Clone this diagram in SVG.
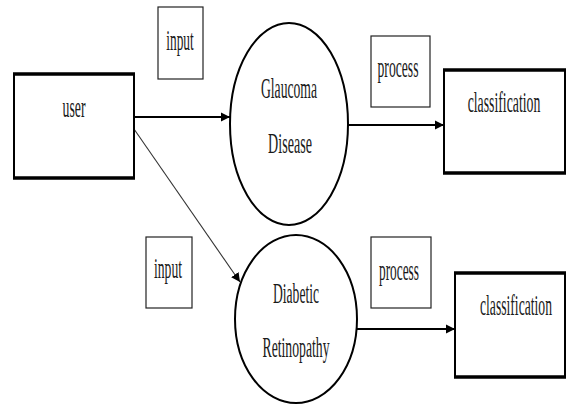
<svg xmlns="http://www.w3.org/2000/svg" width="566" height="405" viewBox="0 0 566 405">
<defs>
<style>
.t{font-family:"Liberation Serif","Times New Roman",serif;font-size:30px;fill:#1a1a1a;text-anchor:middle}
.big{fill:#fff;stroke:#000;stroke-width:2}
.edge{stroke:#000;stroke-width:3.5;fill:none}
.lbl{fill:#fff;stroke:#222;stroke-width:1.2}
.ell{fill:#fff;stroke:#000;stroke-width:2}
.conn{stroke:#000;stroke-width:1.8;fill:none}
.diag{stroke:#333;stroke-width:1.1;fill:none}
</style>
<marker id="ah" viewBox="0 0 10 10" refX="10" refY="5" markerWidth="9" markerHeight="10" markerUnits="userSpaceOnUse" orient="auto">
<path d="M0,0 L10,5 L0,10 Z" fill="#000"/>
</marker>
</defs>
<rect width="566" height="405" fill="#fff"/>
<g id="connectors">
<line class="conn" x1="134" y1="117" x2="230" y2="117" marker-end="url(#ah)"/>
<line class="conn" x1="348" y1="125" x2="444" y2="125" marker-end="url(#ah)"/>
<line class="conn" x1="357" y1="329" x2="455" y2="329" marker-end="url(#ah)"/>
<line class="diag" x1="134" y1="129" x2="240" y2="282" marker-end="url(#ah)"/>
</g>
<g id="user">
<rect class="big" x="14" y="74" width="120" height="104"/>
<path class="edge" d="M13,74 H135 M13,178 H135"/>
<text class="t" transform="translate(74,117) scale(0.46,1)">user</text>
</g>
<g id="input1">
<rect class="lbl" x="158" y="7" width="45" height="72"/>
<text class="t" transform="translate(180,50) scale(0.445,1)">input</text>
</g>
<g id="glaucoma">
<ellipse class="ell" cx="289" cy="124" rx="59" ry="101"/>
<text class="t" transform="translate(289,98) scale(0.455,1)">Glaucoma</text>
<text class="t" transform="translate(290,153) scale(0.47,1)">Disease</text>
</g>
<g id="process1">
<rect class="lbl" x="371" y="36" width="59" height="71"/>
<text class="t" transform="translate(398,77) scale(0.455,1)">process</text>
</g>
<g id="classification1">
<rect class="big" x="444" y="70" width="121" height="103"/>
<path class="edge" d="M443,70 H566 M443,173 H566"/>
<text class="t" transform="translate(504,112) scale(0.46,1)">classification</text>
</g>
<g id="input2">
<rect class="lbl" x="146" y="237" width="46" height="71"/>
<text class="t" transform="translate(168,278) scale(0.455,1)">input</text>
</g>
<g id="diabetic">
<ellipse class="ell" cx="296" cy="319" rx="61" ry="84"/>
<text class="t" transform="translate(296,303) scale(0.453,1)">Diabetic</text>
<text class="t" transform="translate(296,357) scale(0.457,1)">Retinopathy</text>
</g>
<g id="process2">
<rect class="lbl" x="371" y="237" width="60" height="71"/>
<text class="t" transform="translate(399,280) scale(0.445,1)">process</text>
</g>
<g id="classification2">
<rect class="big" x="455" y="273" width="110" height="104"/>
<path class="edge" d="M454,273 H566 M454,377 H566"/>
<text class="t" transform="translate(516,315) scale(0.455,1)">classification</text>
</g>
</svg>
